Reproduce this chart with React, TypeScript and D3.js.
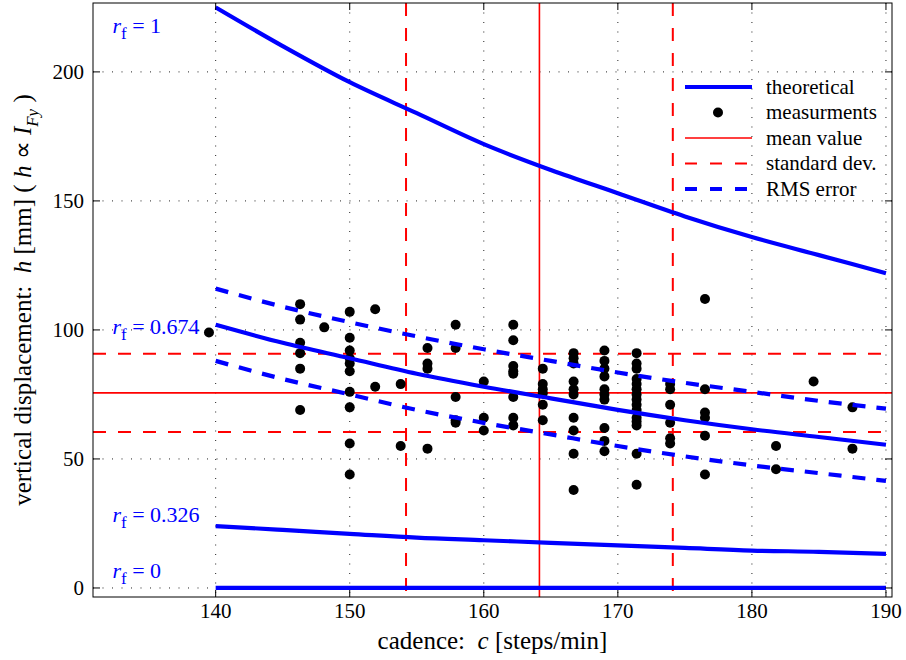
import * as d3 from 'd3';

const measCadence = [139.5, 146.3, 148.1, 150.0, 151.9, 153.8, 155.8, 157.9, 160.0, 162.2, 164.4, 166.7, 169.0, 171.4, 173.9, 176.5, 181.8, 184.6, 187.5];
const measHeights = [
  [99],
  [110, 104, 95, 91, 85, 69],
  [101],
  [107, 97, 92, 89, 87, 84, 76, 70, 56, 44],
  [108, 78],
  [79, 55],
  [93, 87, 85, 54],
  [102, 93, 74, 65, 64],
  [80, 66, 61],
  [102, 96, 86, 84, 83, 74, 66, 63],
  [85, 79, 77, 75.5, 71, 65],
  [91, 89, 87, 80, 77, 75, 66, 61, 52, 38],
  [92, 88, 85, 82, 77, 75, 73, 62, 57, 53],
  [91, 87, 85, 81, 79, 77, 75, 73, 71, 69, 66, 64.5, 63, 52, 40],
  [79, 77, 71, 64, 58, 56],
  [112, 77, 68, 66, 59, 44],
  [55, 46],
  [80],
  [70, 54],
];

// theoretical curves and RMS band, sampled every 5 steps/min
const curveCadence = [140, 145, 150, 155, 160, 165, 170, 175, 180, 185, 190];
const theoRf1 = [225, 210, 196, 184, 172, 162, 153, 144, 136, 129, 122];
const theoRf674 = [102, 95, 89, 83, 78, 73.5, 69, 65, 61.5, 58.5, 55.5];
const theoRf326 = [24, 22.5, 21, 19.5, 18.5, 17.5, 16.5, 15.5, 14.5, 14, 13.2];
const theoRf0 = [0, 0, 0, 0, 0, 0, 0, 0, 0, 0, 0];
const rmsUpper = [116, 109, 103, 97.5, 92.5, 88, 83.5, 79.5, 76, 72.5, 69.5];
const rmsLower = [88, 81, 75, 69, 64, 59.5, 55, 51, 47.5, 44.5, 41.5];

const meanH = 75.6;
const stdH = 15.2;
const meanC = 164.15;
const stdC = 9.95;

const xTicks = [140, 150, 160, 170, 180, 190];
const yTicks = [0, 50, 100, 150, 200];

const curveLabels = [
  { text: '1', y: 215 },
  { text: '0.674', y: 98.5 },
  { text: '0.326', y: 25.5 },
  { text: '0', y: 3.8 },
];

const legendItems = ['theoretical', 'measurments', 'mean value', 'standard dev.', 'RMS error'];

const BLUE = '#0000ff';
const RED = '#ff0000';
const FONT = '"Liberation Serif", "Times New Roman", serif';

export default function App() {
  const left = 93, right = 892, top = 3, bottom = 597;
  const x = d3.scaleLinear().domain([130.85, 190.45]).range([left, right]);
  const y = d3.scaleLinear().domain([-3.5, 226.7]).range([bottom, top]);

  const line = d3.line<number>()
    .x((_, i) => x(curveCadence[i]))
    .y(d => y(d))
    .curve(d3.curveMonotoneX);

  const points = measCadence.flatMap((c, i) => measHeights[i].map(h => ({ c, h })));
  const tick = 7;

  return (
    <svg width={906} height={660} style={{ position: 'absolute', left: 0, top: 0, background: '#fff' }} fontFamily={FONT}>
      {/* grid */}
      <g stroke="#222" strokeWidth={1} strokeDasharray="1,8.5">
        {xTicks.map(t => <line key={'gx' + t} x1={x(t)} x2={x(t)} y1={top} y2={bottom} />)}
        {yTicks.map(t => <line key={'gy' + t} x1={left} x2={right} y1={y(t)} y2={y(t)} />)}
      </g>

      {/* mean and std */}
      <g stroke={RED}>
        <line x1={left} x2={right} y1={y(meanH)} y2={y(meanH)} strokeWidth={1.6} />
        <line x1={x(meanC)} x2={x(meanC)} y1={top} y2={bottom} strokeWidth={1.6} />
        <g strokeWidth={2} strokeDasharray="13,12">
          <line x1={left} x2={right} y1={y(meanH + stdH)} y2={y(meanH + stdH)} />
          <line x1={left} x2={right} y1={y(meanH - stdH)} y2={y(meanH - stdH)} />
          <line x1={x(meanC - stdC)} x2={x(meanC - stdC)} y1={top} y2={bottom} />
          <line x1={x(meanC + stdC)} x2={x(meanC + stdC)} y1={top} y2={bottom} />
        </g>
      </g>

      {/* measurements */}
      <g fill="#000">
        {points.map((p, i) => <circle key={i} cx={x(p.c)} cy={y(p.h)} r={5} />)}
      </g>

      {/* theoretical curves */}
      <g fill="none" stroke={BLUE} strokeWidth={4.2}>
        {[theoRf1, theoRf674, theoRf326, theoRf0].map((d, i) => <path key={i} d={line(d) || ''} />)}
        <path d={line(rmsUpper) || ''} strokeDasharray="13,11" />
        <path d={line(rmsLower) || ''} strokeDasharray="13,11" />
      </g>

      {/* curve labels */}
      {curveLabels.map(l => (
        <text key={l.text} x={x(132.3)} y={y(l.y)} fill={BLUE} fontSize={22} style={{ whiteSpace: 'pre' }}>
          <tspan fontStyle="italic">r</tspan>
          <tspan fontSize={17} dy={6}>f</tspan>
          <tspan dy={-6}>{' = ' + l.text}</tspan>
        </text>
      ))}

      {/* axes box */}
      <rect x={left} y={top} width={right - left} height={bottom - top} fill="none" stroke="#000" strokeWidth={1} />
      <g stroke="#000" strokeWidth={1}>
        {xTicks.map(t => (
          <g key={'tx' + t}>
            <line x1={x(t)} x2={x(t)} y1={bottom} y2={bottom - tick} />
            <line x1={x(t)} x2={x(t)} y1={top} y2={top + tick} />
          </g>
        ))}
        {yTicks.map(t => (
          <g key={'ty' + t}>
            <line x1={left} x2={left + tick} y1={y(t)} y2={y(t)} />
            <line x1={right} x2={right - tick} y1={y(t)} y2={y(t)} />
          </g>
        ))}
      </g>
      <g fontSize={21} fill="#000">
        {xTicks.map(t => <text key={'lx' + t} x={x(t)} y={bottom + 21} textAnchor="middle">{t}</text>)}
        {yTicks.map(t => <text key={'ly' + t} x={left - 9} y={y(t)} dy="0.35em" textAnchor="end">{t}</text>)}
      </g>

      {/* axis titles */}
      <text x={(left + right) / 2} y={649} textAnchor="middle" fontSize={25} style={{ whiteSpace: 'pre' }}>
        {'cadence:  '}<tspan fontStyle="italic">c</tspan>{' [steps/min]'}
      </text>
      <text transform={`translate(31,${(top + bottom) / 2}) rotate(-90)`} textAnchor="middle" fontSize={25} style={{ whiteSpace: 'pre' }}>
        {'vertical displacement:  '}<tspan fontStyle="italic">h</tspan>{' [mm] ( '}
        <tspan fontStyle="italic">h</tspan>{' ∝ '}<tspan fontStyle="italic">I</tspan>
        <tspan fontStyle="italic" fontSize={17} dy={7}>{'Fy'}</tspan>
        <tspan dy={-7}>{' )'}</tspan>
      </text>

      {/* legend */}
      <g fontSize={21}>
        {legendItems.map((name, i) => {
          const ly = 87 + i * 25.5;
          return (
            <g key={name}>
              {i === 0 && <line x1={685} x2={752} y1={ly} y2={ly} stroke={BLUE} strokeWidth={4.2} />}
              {i === 1 && <circle cx={718} cy={ly} r={5} fill="#000" />}
              {i === 2 && <line x1={685} x2={752} y1={ly} y2={ly} stroke={RED} strokeWidth={1.6} />}
              {i === 3 && <line x1={685} x2={752} y1={ly} y2={ly} stroke={RED} strokeWidth={2} strokeDasharray="12,13" />}
              {i === 4 && <line x1={685} x2={752} y1={ly} y2={ly} stroke={BLUE} strokeWidth={4.2} strokeDasharray="12,13" />}
              <text x={766} y={ly} dy="0.33em" fill="#000">{name}</text>
            </g>
          );
        })}
      </g>
    </svg>
  );
}
